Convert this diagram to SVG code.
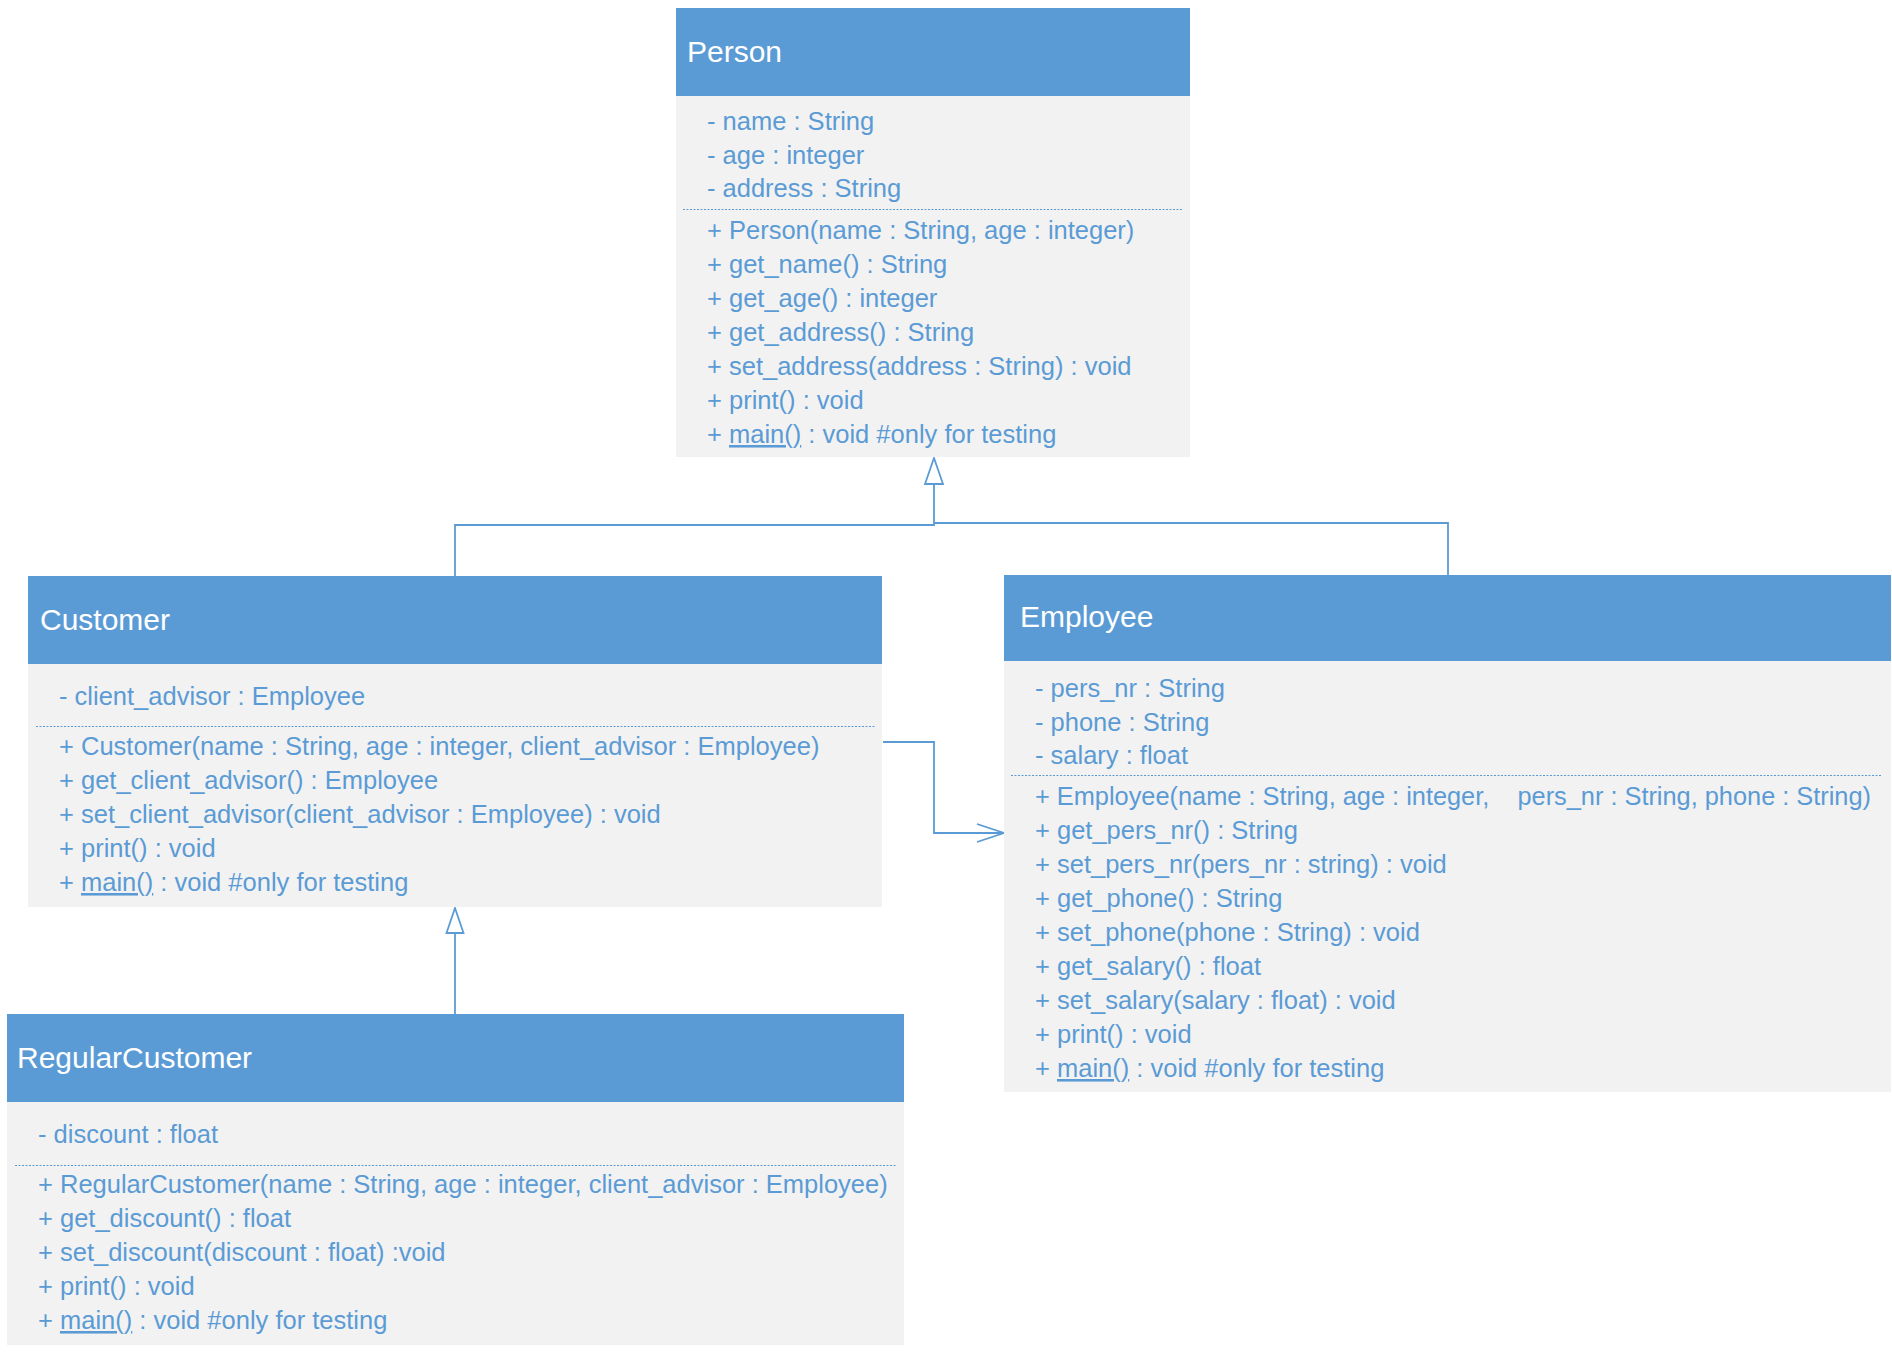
<svg xmlns="http://www.w3.org/2000/svg" width="1892" height="1354" viewBox="0 0 1892 1354">
<style>
.hdr{fill:#5b9bd5}
.body{fill:#f2f2f2}
.title{font-family:"Liberation Sans",Arial,sans-serif;font-size:30px;fill:#ffffff}
.t{font-family:"Liberation Sans",Arial,sans-serif;font-size:25.5px;fill:#5b9bd5;white-space:pre}
.sep{stroke:#5b9bd5;stroke-width:1.2;stroke-dasharray:2 1.5;fill:none}
.conn{stroke:#5b9bd5;stroke-width:1.8;fill:none}
.tri{stroke:#5b9bd5;stroke-width:1.8;fill:#ffffff;stroke-linejoin:miter}
.u{text-decoration:underline}
</style>
<rect width="1892" height="1354" fill="#ffffff"/>
<g id="connectors">
<path class="conn" d="M455,576 V525 H934 V484"/>
<path class="conn" d="M1448,575 V523 H934"/>
<polygon class="tri" points="934,458 925,484 943,484"/>
<path class="conn" d="M455,1014 V933"/>
<polygon class="tri" points="455,908 446.5,933 463.5,933"/>
<path class="conn" d="M883,742 H934 V833 H1003"/>
<polyline class="conn" points="977,824 1004,833 977,842"/>
</g>
<g id="Person">
<rect class="hdr" x="676" y="8" width="514" height="88"/>
<rect class="body" x="676" y="96" width="514" height="361"/>
<text class="title" x="687" y="62">Person</text>
<text class="t" x="707" y="130">- name : String</text>
<text class="t" x="707" y="164">- age : integer</text>
<text class="t" x="707" y="197">- address : String</text>
<line class="sep" x1="683" y1="209.5" x2="1183" y2="209.5"/>
<text class="t" x="707" y="239">+ Person(name : String, age : integer)</text>
<text class="t" x="707" y="273">+ get_name() : String</text>
<text class="t" x="707" y="307">+ get_age() : integer</text>
<text class="t" x="707" y="341">+ get_address() : String</text>
<text class="t" x="707" y="375">+ set_address(address : String) : void</text>
<text class="t" x="707" y="409">+ print() : void</text>
<text class="t" x="707" y="443">+ <tspan class="u">main()</tspan> : void #only for testing</text>
</g>
<g id="Customer">
<rect class="hdr" x="28" y="576" width="854" height="88"/>
<rect class="body" x="28" y="664" width="854" height="243"/>
<text class="title" x="40" y="630">Customer</text>
<text class="t" x="59" y="705">- client_advisor : Employee</text>
<line class="sep" x1="36" y1="726.5" x2="876" y2="726.5"/>
<text class="t" x="59" y="755">+ Customer(name : String, age : integer, client_advisor : Employee)</text>
<text class="t" x="59" y="789">+ get_client_advisor() : Employee</text>
<text class="t" x="59" y="823">+ set_client_advisor(client_advisor : Employee) : void</text>
<text class="t" x="59" y="857">+ print() : void</text>
<text class="t" x="59" y="891">+ <tspan class="u">main()</tspan> : void #only for testing</text>
</g>
<g id="RegularCustomer">
<rect class="hdr" x="7" y="1014" width="897" height="88"/>
<rect class="body" x="7" y="1102" width="897" height="243"/>
<text class="title" x="17" y="1068">RegularCustomer</text>
<text class="t" x="38" y="1143">- discount : float</text>
<line class="sep" x1="15" y1="1165.5" x2="897" y2="1165.5"/>
<text class="t" x="38" y="1193">+ RegularCustomer(name : String, age : integer, client_advisor : Employee)</text>
<text class="t" x="38" y="1227">+ get_discount() : float</text>
<text class="t" x="38" y="1261">+ set_discount(discount : float) :void</text>
<text class="t" x="38" y="1295">+ print() : void</text>
<text class="t" x="38" y="1329">+ <tspan class="u">main()</tspan> : void #only for testing</text>
</g>
<g id="Employee">
<rect class="hdr" x="1004" y="575" width="887" height="86"/>
<rect class="body" x="1004" y="661" width="887" height="431"/>
<text class="title" x="1020" y="627">Employee</text>
<text class="t" x="1035" y="697">- pers_nr : String</text>
<text class="t" x="1035" y="731">- phone : String</text>
<text class="t" x="1035" y="764">- salary : float</text>
<line class="sep" x1="1011" y1="775.5" x2="1882" y2="775.5"/>
<text class="t" x="1035" y="805" textLength="836" lengthAdjust="spacingAndGlyphs">+ Employee(name : String, age : integer,    pers_nr : String, phone : String)</text>
<text class="t" x="1035" y="839">+ get_pers_nr() : String</text>
<text class="t" x="1035" y="873">+ set_pers_nr(pers_nr : string) : void</text>
<text class="t" x="1035" y="907">+ get_phone() : String</text>
<text class="t" x="1035" y="941">+ set_phone(phone : String) : void</text>
<text class="t" x="1035" y="975">+ get_salary() : float</text>
<text class="t" x="1035" y="1009">+ set_salary(salary : float) : void</text>
<text class="t" x="1035" y="1043">+ print() : void</text>
<text class="t" x="1035" y="1077">+ <tspan class="u">main()</tspan> : void #only for testing</text>
</g>
</svg>
